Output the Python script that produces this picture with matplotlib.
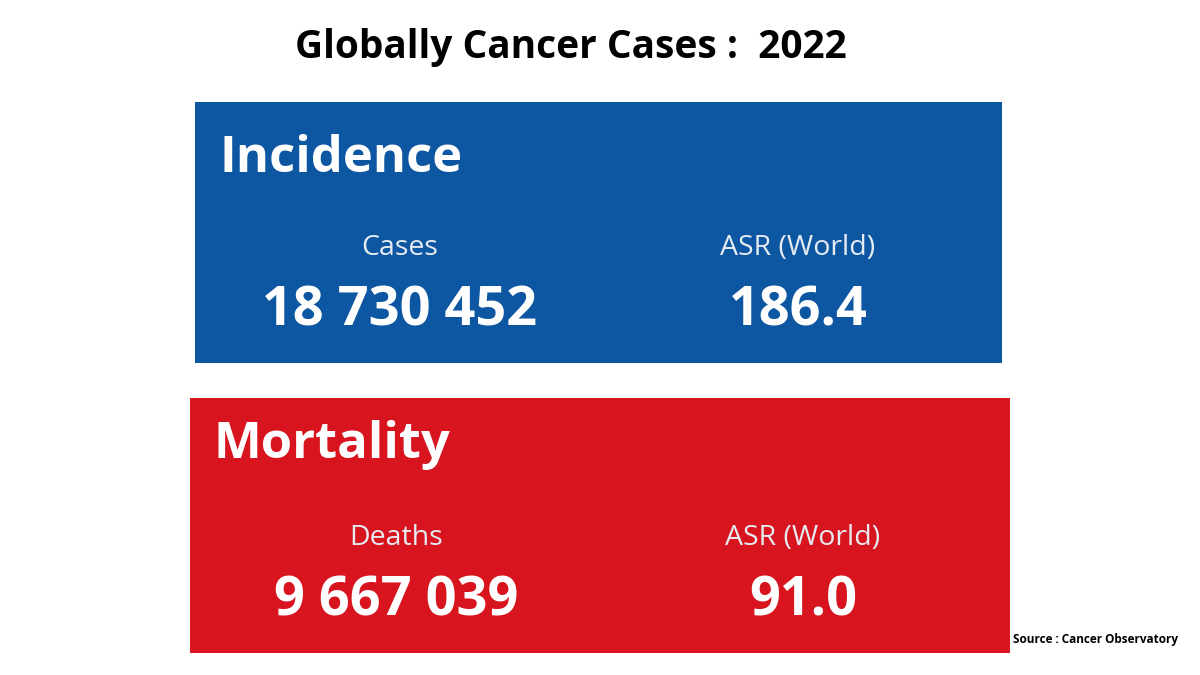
import matplotlib.pyplot as plt
from matplotlib.patches import Rectangle

# data
title = "Globally Cancer Cases :  2022"
source = "Source : Cancer Observatory"
panels = ["Incidence", "Mortality"]
left_labels = ["Cases", "Deaths"]
left_values = ["18 730 452", "9 667 039"]
right_labels = ["ASR (World)", "ASR (World)"]
right_values = ["186.4", "91.0"]
panel_colors = ["#0d56a2", "#d8141f"]

# layout in pixel units (x0, y0, x1, y1), y down
boxes = [(195, 102, 1002, 363), (190, 398, 1010, 653)]
head_off = [70, 60]
col_x = [(400, 798), (396, 803)]

fig = plt.figure(figsize=(12, 6.75), dpi=100)
ax = fig.add_axes([0, 0, 1, 1])
ax.set_xlim(0, 1200)
ax.set_ylim(675, 0)
ax.axis('off')

ax.text(571, 58, title, ha='center', va='baseline', fontsize=28,
        fontweight='bold', family='Open Sans', color='black')

for i in range(len(panels)):
    x0, y0, x1, y1 = boxes[i]
    ax.add_patch(Rectangle((x0, y0), x1 - x0, y1 - y0,
                           facecolor=panel_colors[i], edgecolor='none'))
    ax.text(x0 + 24, y0 + head_off[i], panels[i], ha='left', va='baseline',
            fontsize=36.5, fontweight='bold', family='Open Sans', color='white')
    xl, xr = col_x[i]
    for x, lab, val in [(xl, left_labels[i], left_values[i]),
                        (xr, right_labels[i], right_values[i])]:
        ax.text(x, y1 - 115, lab, ha='center', va='center',
                fontsize=20.5, family='Open Sans', color='#e6ebf2')
        ax.text(x, y1 - 37, val, ha='center', va='baseline',
                fontsize=39, fontweight='bold', family='Open Sans', color='white')

ax.text(1013, 640, source, ha='left', va='center', fontsize=8.5,
        fontweight='bold', family='Open Sans', color='black')

fig.savefig('out.png', dpi=100)
